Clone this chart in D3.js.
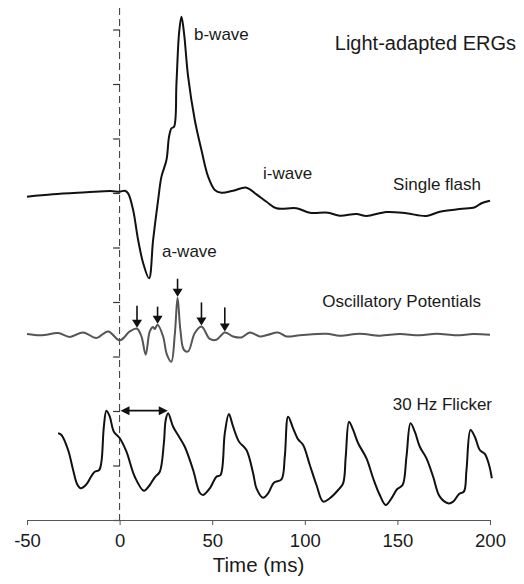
<!DOCTYPE html>
<html>
<head>
<meta charset="utf-8">
<script src="https://cdn.jsdelivr.net/npm/d3@7"></script>
<style>
  body { margin: 0; background: #fff; }
  text { font-family: 'Liberation Sans', Arial, Helvetica, sans-serif; fill: #1a1a1a; }
</style>
</head>
<body>
<div id="chart"></div>
<script>
// time ticks (ms) and amplitude scale-bar ticks
var timeTicks = [-50, 0, 50, 100, 150, 200];
var ampTicks = [0, 50, 100, 150, 200, 250, 300, 350, 400, 450];

// single flash response [ms, uV relative to its baseline]
var flash = [
  [-50, -3.4], [-36, -1.2], [-18, 0.6], [-5, 1.8], [0, 1.2], [2.8, 2.1], [4.6, -0.3],
  [7.3, -15.6], [10, -43.1], [12.7, -64.2], [15.9, -78.3], [18.1, -43.1], [20.8, -6.4],
  [22.6, 15], [25.3, 30.3], [26.7, 51.7], [28, 59.4], [29.4, 60.8], [30.7, 100.6],
  [32.1, 146.5], [33.4, 161.7], [34.8, 146.5], [37, 106.7], [40.6, 67], [44.2, 39.4],
  [47.8, 15], [51.4, 2.8], [55, 0.3], [61.3, 2.1], [68.5, 4.9], [73.9, -1.2], [79.3, -8],
  [84.7, -14], [95.5, -14], [102.7, -18.1], [112.6, -18.1], [118.9, -20.8], [127.9, -19.3],
  [133.3, -21.1], [144.1, -17.4], [154.9, -18.6], [165.7, -21.1], [172.9, -17.2],
  [183.7, -14.7], [191.8, -13.1], [195.4, -9.4], [200, -7.1]
];

// oscillatory potentials
var ops = [
  [-50, 0.6], [-43.1, -0.6], [-39.5, 0], [-33.2, 1.6], [-26.9, -2.1], [-19.7, 2.1],
  [-12.5, -3], [-6.2, 3], [0.1, -5.2], [5.5, 3], [9.4, 5.5], [11.8, -1.6], [14.1, -18.3],
  [16.3, 3], [18.1, 7.1], [19, 5.2], [20.5, 9.2], [23.5, -1.6], [25.5, -18], [27.9, -24.8],
  [29.8, 0], [31.3, 33.9], [32.8, 4.6], [34.7, -13.8], [37, -15.3], [40.6, 1.6],
  [44.2, 7.6], [48.7, -3.9], [52.3, -4.6], [56.8, 2.1], [61.3, -1.6], [65.8, -2.5],
  [70.3, 2.1], [75.7, -1.6], [80.2, 0], [85.6, 2.1], [90.1, -1.6], [97.3, -0.6],
  [111.7, 0.9], [118.9, -0.9], [129.7, 0.9], [140.5, -0.9], [151.3, 0.6], [162.1, -0.6],
  [171.1, 0.9], [181.9, -0.6], [190.9, 0.6], [200, 0]
];
var opPeaks = [9.4, 20.5, 31.3, 44.2, 56.8];

// 30 Hz flicker
var flicker = [
  [-33.2, 29.5], [-31.4, 28], [-27.8, 14.2], [-25.1, -4.1], [-22.9, -17.2], [-21, -20.9],
  [-17.9, -17.2], [-15.2, -9.6], [-13.4, -5.7], [-11, -4.1], [-9.8, 3.5], [-8.5, 35.6],
  [-7.1, 50.3], [-5.3, 44.8], [-3.1, 31], [0.1, 25], [3.7, 12.7], [8.2, -10.3],
  [13.1, -23.1], [16.3, -17.9], [19, -10.8], [21.7, -5.7], [23.9, 20.4], [24.9, 41.7],
  [26.2, 47.9], [28.9, 35.6], [32.1, 26.4], [35.2, 17.2], [39.7, -4.1], [43.3, -25],
  [45.1, -27.1], [48.7, -20.9], [52.3, -10.3], [54.5, -8.7], [56.8, 29.5], [59, 47.2],
  [61.3, 35.6], [64.5, 21.8], [68.5, 14.2], [72.1, -7.2], [73.9, -20.9], [77.5, -29.6],
  [80.2, -25.5], [83.3, -15.8], [87.4, -12.7], [89.2, 8.1], [91, 44.8], [93.7, 34.1],
  [96.4, 24], [99.1, 18.8], [102.7, 0.5], [106.3, -17.9], [109.9, -33.2], [113.5, -30.1],
  [118, -22.5], [120.7, -16.3], [122.1, 8.1], [123.9, 40.2], [126.1, 32.6], [128.8, 20.4],
  [133.3, 6.6], [136.9, -11.7], [140.5, -27.1], [143.7, -36.2], [146.8, -30.1],
  [149.8, -21.8], [152.8, -17.9], [154.9, 8.1], [157.1, 38.7], [159.4, 31], [162.1, 17.2],
  [165.7, 6.6], [169.3, -10.3], [172.9, -28.6], [177.4, -34.7], [180.1, -33.2],
  [183.3, -26.1], [185.9, -24], [187.3, -4.1], [189.5, 32.6], [191.8, 26.4], [194.5, 14.2],
  [197.2, 10.6], [199.5, 0.5], [201, -11.7]
];
var flickerSpan = [0.5, 26];

var width = 524, height = 584;
var flashBase = 300, opBase = 170, flickerBase = 50;

var svg = d3.select('#chart').append('svg')
  .attr('width', width)
  .attr('height', height);

var x = d3.scaleLinear().domain([-50, 200]).range([27, 490]);
var y = d3.scaleLinear().domain([0, 450]).range([520, 29.5]);

// stimulus onset
svg.append('line')
  .attr('x1', x(0)).attr('x2', x(0))
  .attr('y1', 8).attr('y2', y(0))
  .attr('stroke', '#333')
  .attr('stroke-width', 1)
  .attr('stroke-dasharray', '7,4');

// amplitude scale bar (unlabelled)
var yAxis = svg.append('g')
  .attr('transform', 'translate(' + (x(0) + 0.5) + ',0)')
  .call(d3.axisLeft(y).tickValues(ampTicks).tickSize(7).tickFormat(''));
yAxis.select('.domain').remove();
yAxis.selectAll('line').attr('stroke', '#333').attr('stroke-width', 1.2);

// time axis
var xAxis = svg.append('g')
  .attr('transform', 'translate(0,' + y(0) + ')')
  .call(d3.axisBottom(x).tickValues(timeTicks).tickSize(5).tickSizeOuter(0).tickPadding(9)
    .tickFormat(function(d) { return String(d); }));
xAxis.select('.domain').attr('stroke', '#555');
xAxis.selectAll('line').attr('stroke', '#555');
xAxis.selectAll('text')
  .style('font-size', '18.5px')
  .style('font-family', "'Liberation Sans', Arial, sans-serif")
  .attr('fill', '#1a1a1a');

svg.append('text')
  .attr('x', (x(-50) + x(200)) / 2)
  .attr('y', 572)
  .attr('text-anchor', 'middle')
  .style('font-size', '20.5px')
  .text('Time (ms)');

function trace(data, base) {
  return d3.line()
    .x(function(d) { return x(d[0]); })
    .y(function(d) { return y(base + d[1]); })
    .curve(d3.curveCatmullRom.alpha(0.5))(data);
}

svg.append('path')
  .attr('d', trace(flash, flashBase))
  .attr('fill', 'none')
  .attr('stroke', '#111')
  .attr('stroke-width', 2)
  .attr('stroke-linejoin', 'round');

svg.append('path')
  .attr('d', trace(ops, opBase))
  .attr('fill', 'none')
  .attr('stroke', '#555')
  .attr('stroke-width', 2)
  .attr('stroke-linejoin', 'round');

svg.append('path')
  .attr('d', trace(flicker, flickerBase))
  .attr('fill', 'none')
  .attr('stroke', '#111')
  .attr('stroke-width', 2)
  .attr('stroke-linejoin', 'round');

// arrows pointing at the oscillatory peaks
var arrowLen = [22, 17, 18, 23, 24];
opPeaks.forEach(function(t, i) {
  var p = ops.find(function(d) { return d[0] === t; });
  var px = x(t), tip = y(opBase + p[1]) - 1;
  svg.append('line')
    .attr('x1', px).attr('x2', px)
    .attr('y1', tip - arrowLen[i]).attr('y2', tip - 6)
    .attr('stroke', '#111')
    .attr('stroke-width', 1.6);
  svg.append('path')
    .attr('d', 'M' + (px - 5) + ',' + (tip - 8) + 'L' + (px + 5) + ',' + (tip - 8) + 'L' + px + ',' + tip + 'Z')
    .attr('fill', '#111');
});

// flicker period arrow
var ay = y(flickerBase + d3.max(flicker, function(d) { return d[1]; }));
var ax1 = x(flickerSpan[0]), ax2 = x(flickerSpan[1]);
svg.append('line')
  .attr('x1', ax1 + 6).attr('x2', ax2 - 6)
  .attr('y1', ay).attr('y2', ay)
  .attr('stroke', '#111')
  .attr('stroke-width', 1.6);
svg.append('path')
  .attr('d', 'M' + ax1 + ',' + ay + 'L' + (ax1 + 9) + ',' + (ay - 4.5) + 'L' + (ax1 + 9) + ',' + (ay + 4.5) + 'Z')
  .attr('fill', '#111');
svg.append('path')
  .attr('d', 'M' + ax2 + ',' + ay + 'L' + (ax2 - 9) + ',' + (ay - 4.5) + 'L' + (ax2 - 9) + ',' + (ay + 4.5) + 'Z')
  .attr('fill', '#111');

// annotations
var notes = [
  {text: 'Light-adapted ERGs', x: 516, y: 50, anchor: 'end', size: 20},
  {text: 'b-wave', x: 194, y: 40, anchor: 'start', size: 17},
  {text: 'a-wave', x: 162, y: 257, anchor: 'start', size: 17},
  {text: 'i-wave', x: 263, y: 179, anchor: 'start', size: 17},
  {text: 'Single flash', x: 481, y: 190, anchor: 'end', size: 17},
  {text: 'Oscillatory Potentials', x: 481, y: 307, anchor: 'end', size: 17},
  {text: '30 Hz Flicker', x: 492, y: 410, anchor: 'end', size: 17}
];
svg.selectAll('text.note').data(notes).enter()
  .append('text')
  .attr('class', 'note')
  .attr('x', function(d) { return d.x; })
  .attr('y', function(d) { return d.y; })
  .attr('text-anchor', function(d) { return d.anchor; })
  .style('font-size', function(d) { return d.size + 'px'; })
  .text(function(d) { return d.text; });
</script>
</body>
</html>
